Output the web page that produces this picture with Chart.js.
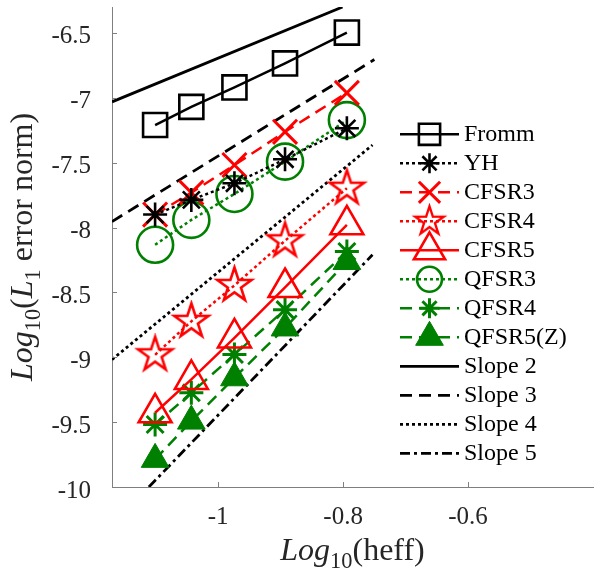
<!DOCTYPE html>
<html lang="en">
<head>
  <meta charset="UTF-8">
  <title>Error norm convergence</title>
  <style>
    body { margin: 0; background: #fff; }
    #wrap { width: 594px; height: 571px; }
  </style>
</head>
<body>
  <div id="wrap"><canvas id="errChart" width="594" height="571"></canvas></div>
  <script src="https://cdn.jsdelivr.net/npm/chart.js"></script>
  <script>
    // log10(heff) of the five grids
    const logH = [-1.101, -1.043, -0.974, -0.893, -0.794];

    // log10(L1 error norm) for every scheme
    const fromm = [-7.21, -7.07, -6.92, -6.735, -6.497];
    const yh    = [-7.90, -7.787, -7.659, -7.474, -7.235];
    const cfsr3 = [-7.90, -7.731, -7.518, -7.262, -6.962];
    const cfsr4 = [-8.981, -8.723, -8.446, -8.102, -7.697];
    const cfsr5 = [-9.428, -9.171, -8.851, -8.462, -7.979];
    const qfsr3 = [-8.133, -7.941, -7.741, -7.492, -7.172];
    const qfsr4 = [-9.518, -9.274, -8.979, -8.633, -8.185];
    const qfsr5 = [-9.787, -9.492, -9.158, -8.774, -8.262];

    // reference slope lines (end points)
    const slope2X = [-1.17, -0.801];  const slope2Y = [-7.031, -6.30];
    const slope3X = [-1.17, -0.75];   const slope3Y = [-7.954, -6.705];
    const slope4X = [-1.17, -0.753];  const slope4Y = [-9.018, -7.364];
    const slope5X = [-1.111, -0.753]; const slope5Y = [-10, -8.21];

    const xTicks = [-1, -0.8, -0.6];
    const yTicks = [-10, -9.5, -9, -8.5, -8, -7.5, -7, -6.5];

    const RED = '#ff0000';
    const GREEN = '#008000';
    const BLACK = '#000000';
    const SERIF = "'Liberation Serif', 'Times New Roman', serif";

    // open pentagram marker (matlab 'p')
    function makePentagram(R, color, lw) {
      const s = Math.ceil(2 * R + lw + 4);
      const c = document.createElement('canvas');
      c.width = s; c.height = s;
      const g = c.getContext('2d');
      g.translate(s / 2, s / 2);
      g.beginPath();
      for (let i = 0; i < 10; i++) {
        const r = i % 2 === 0 ? R : R * 0.382;
        const a = -Math.PI / 2 + i * Math.PI / 5;
        const px = r * Math.cos(a), py = r * Math.sin(a);
        if (i === 0) g.moveTo(px, py); else g.lineTo(px, py);
      }
      g.closePath();
      g.strokeStyle = color;
      g.lineWidth = lw;
      g.lineJoin = 'miter';
      g.stroke();
      return c;
    }
    const starBig = makePentagram(18, RED, 2.6);
    const starSmall = makePentagram(15, RED, 2.4);

    const pts = (xs, ys) => xs.map((x, i) => ({ x: x, y: ys[i] }));

    function series(label, ys, color, dash, style, radius, bw, fill, legendR) {
      return {
        label: label,
        data: pts(logH, ys),
        borderColor: color,
        borderWidth: 2.5,
        borderDash: dash,
        pointStyle: style,
        pointRadius: radius,
        pointBorderWidth: bw,
        pointBorderColor: color,
        pointBackgroundColor: fill,
        legendR: legendR
      };
    }
    function slope(label, xs, ys, dash) {
      return {
        label: label,
        data: pts(xs, ys),
        borderColor: BLACK,
        borderWidth: 2.8,
        borderDash: dash,
        pointRadius: 0
      };
    }

    const datasets = [
      series('Fromm', fromm, BLACK, [], 'rect', 17, 2.6, 'transparent', 15),
      series('YH', yh, BLACK, [3, 3], 'star', 12, 2.6, 'transparent', 10),
      series('CFSR3', cfsr3, RED, [12, 7], 'crossRot', 17, 3, 'transparent', 15),
      series('CFSR4', cfsr4, RED, [3, 3], starBig, 18, 2.6, 'transparent', 15),
      series('CFSR5', cfsr5, RED, [], 'triangle', 19, 2.6, 'transparent', 18),
      series('QFSR3', qfsr3, GREEN, [3, 3], 'circle', 18, 2.6, 'transparent', 12.5),
      series('QFSR4', qfsr4, GREEN, [12, 7], 'star', 12, 3, 'transparent', 10),
      series('QFSR5(Z)', qfsr5, GREEN, [12, 7], 'triangle', 16, 1, GREEN, 16),
      slope('Slope 2', slope2X, slope2Y, []),
      slope('Slope 3', slope3X, slope3Y, [12, 7]),
      slope('Slope 4', slope4X, slope4Y, [3, 3]),
      slope('Slope 5', slope5X, slope5Y, [10, 4, 3, 4])
    ];

    // mixed italic / subscript text
    function drawRich(ctx, parts, size, x, y) {
      const fontOf = p => (p.it ? 'italic ' : '') + (p.sub ? size * 0.7 : size) + 'px ' + SERIF;
      let w = 0;
      parts.forEach(p => { ctx.font = fontOf(p); w += ctx.measureText(p.t).width; });
      let cx = x - w / 2;
      ctx.textAlign = 'left';
      ctx.textBaseline = 'alphabetic';
      parts.forEach(p => {
        ctx.font = fontOf(p);
        ctx.fillText(p.t, cx, y + (p.sub ? size * 0.25 : 0));
        cx += ctx.measureText(p.t).width;
      });
    }

    const decorations = {
      id: 'decorations',
      afterDraw(chart) {
        const ctx = chart.ctx;
        const xs = chart.scales.x, ys = chart.scales.y;
        const area = chart.chartArea;
        ctx.save();

        // inward tick marks
        ctx.strokeStyle = '#7f7f7f';
        ctx.lineWidth = 1;
        ctx.setLineDash([]);
        ctx.beginPath();
        xTicks.forEach(v => {
          const px = Math.round(xs.getPixelForValue(v)) + 0.5;
          ctx.moveTo(px, area.bottom); ctx.lineTo(px, area.bottom - 5);
        });
        yTicks.forEach(v => {
          const py = Math.round(ys.getPixelForValue(v)) + 0.5;
          ctx.moveTo(area.left, py); ctx.lineTo(area.left + 5, py);
        });
        ctx.stroke();

        // tick labels
        ctx.fillStyle = '#262626';
        ctx.font = '25px ' + SERIF;
        ctx.textAlign = 'center';
        ctx.textBaseline = 'alphabetic';
        xTicks.forEach(v => ctx.fillText(String(v), xs.getPixelForValue(v), 524));
        ctx.textAlign = 'right';
        yTicks.forEach(v => ctx.fillText(String(v), 91, ys.getPixelForValue(v) + 10.5));

        // axis titles
        drawRich(ctx, [{ t: 'Log', it: true }, { t: '10', sub: true }, { t: '(heff)' }],
          32, (area.left + area.right) / 2, 560);
        ctx.save();
        ctx.translate(32, (area.top + area.bottom) / 2);
        ctx.rotate(-Math.PI / 2);
        drawRich(ctx, [{ t: 'Log', it: true }, { t: '10', sub: true }, { t: '(' },
          { t: 'L', it: true }, { t: '1', sub: true }, { t: ' error norm)' }], 32, 0, 0);
        ctx.restore();

        // legend: line sample + marker + label
        const x0 = 400, x1 = 459, tx = 464, y0 = 134.3, step = 29;
        chart.data.datasets.forEach((ds, i) => {
          const y = y0 + i * step;
          ctx.strokeStyle = ds.borderColor;
          ctx.lineWidth = ds.borderWidth;
          ctx.setLineDash(ds.borderDash || []);
          ctx.beginPath();
          ctx.moveTo(x0, y); ctx.lineTo(x1, y);
          ctx.stroke();
          ctx.setLineDash([]);
          if (ds.pointRadius > 0) {
            const mx = (x0 + x1) / 2;
            if (ds.pointStyle instanceof HTMLCanvasElement) {
              ctx.drawImage(starSmall, mx - starSmall.width / 2, y - starSmall.height / 2);
            } else {
              ctx.fillStyle = ds.pointBackgroundColor;
              ctx.strokeStyle = ds.pointBorderColor;
              ctx.lineWidth = ds.pointBorderWidth;
              Chart.helpers.drawPoint(ctx, {
                pointStyle: ds.pointStyle, radius: ds.legendR, rotation: 0,
                borderWidth: ds.pointBorderWidth
              }, mx, y);
            }
          }
          ctx.fillStyle = '#000';
          ctx.font = '24px ' + SERIF;
          ctx.textAlign = 'left';
          ctx.textBaseline = 'alphabetic';
          ctx.fillText(ds.label, tx, y + 7);
        });
        ctx.restore();
      }
    };

    new Chart(document.getElementById('errChart'), {
      type: 'line',
      data: { datasets: datasets },
      options: {
        responsive: false,
        animation: false,
        events: [],
        layout: { autoPadding: false, padding: { top: 7, right: 1, left: 0, bottom: 0 } },
        plugins: { legend: { display: false }, tooltip: { enabled: false } },
        elements: { line: { tension: 0 } },
        scales: {
          x: {
            type: 'linear',
            min: -1.17,
            max: -0.4,
            afterBuildTicks: s => { s.ticks = xTicks.map(v => ({ value: v })); },
            afterFit: s => { s.height = 84; },
            grid: { display: false, drawTicks: false },
            border: { display: true, color: '#7f7f7f', width: 1 },
            ticks: { display: false }
          },
          y: {
            type: 'linear',
            min: -10,
            max: -6.3,
            afterBuildTicks: s => { s.ticks = yTicks.map(v => ({ value: v })); },
            afterFit: s => { s.width = 112; },
            grid: { display: false, drawTicks: false },
            border: { display: true, color: '#7f7f7f', width: 1 },
            ticks: { display: false }
          }
        }
      },
      plugins: [decorations]
    });
  </script>
</body>
</html>
